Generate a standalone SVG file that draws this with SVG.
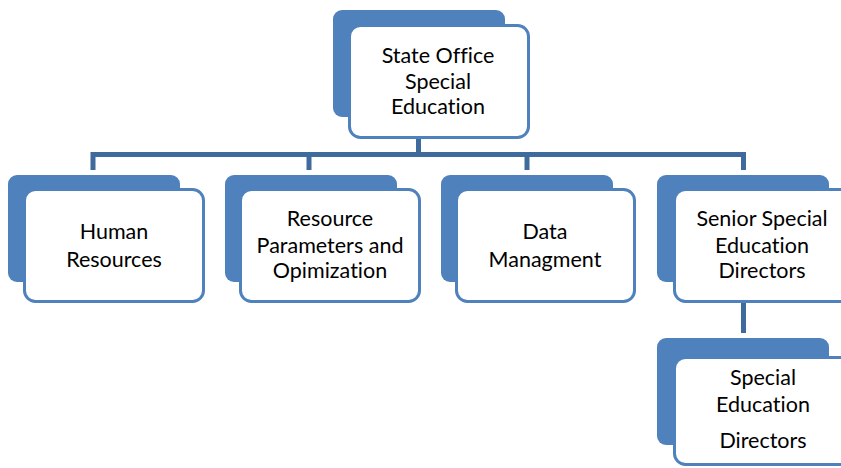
<svg xmlns="http://www.w3.org/2000/svg" width="841" height="468" viewBox="0 0 841 468">
  <style>
    .back { fill: #4F81BD; }
    .front { fill: #FFFFFF; stroke: #4F81BD; stroke-width: 3; }
    .link { fill: none; stroke: #3E6A9C; stroke-width: 5; }
    text { font-family: Lato, "Open Sans", "Liberation Sans", sans-serif; font-size: 21.5px; fill: #000000; text-anchor: middle; font-variant-ligatures: none; }
  </style>
  <rect width="841" height="468" fill="#FFFFFF"/>

  <!-- connectors -->
  <g id="connectors">
    <path class="link" d="M418.5 139 V154.5"/>
    <path class="link" d="M93 170 V154.5 H743.5 V170"/>
    <path class="link" d="M309 154.5 V170"/>
    <path class="link" d="M527 154.5 V170"/>
    <path class="link" d="M743.5 303 V333"/>
  </g>

  <!-- State Office Special Education -->
  <g id="node-state-office">
    <rect class="back" x="333" y="10" width="172" height="107" rx="9"/>
    <rect class="front" x="349.5" y="25.5" width="179" height="112" rx="11"/>
    <text x="438" y="63">State Office</text>
    <text x="438" y="89">Special</text>
    <text x="438" y="114">Education</text>
  </g>

  <!-- Human Resources -->
  <g id="node-human-resources">
    <rect class="back" x="8" y="175" width="172" height="107" rx="9"/>
    <rect class="front" x="24.5" y="189.5" width="179" height="112" rx="11"/>
    <text x="114" y="239">Human</text>
    <text x="114" y="267">Resources</text>
  </g>

  <!-- Resource Parameters and Opimization -->
  <g id="node-resource-parameters">
    <rect class="back" x="225" y="175" width="172" height="107" rx="9"/>
    <rect class="front" x="240.5" y="189.5" width="179" height="112" rx="11"/>
    <text x="330" y="226">Resource</text>
    <text x="330" y="253">Parameters and</text>
    <text x="330" y="278">Opimization</text>
  </g>

  <!-- Data Managment -->
  <g id="node-data-managment">
    <rect class="back" x="441" y="175" width="172" height="107" rx="9"/>
    <rect class="front" x="456.5" y="189.5" width="178" height="112" rx="11"/>
    <text x="545" y="239">Data</text>
    <text x="545" y="267">Managment</text>
  </g>

  <!-- Senior Special Education Directors -->
  <g id="node-senior-directors">
    <rect class="back" x="657" y="175" width="172" height="107" rx="9"/>
    <rect class="front" x="674.5" y="189.5" width="179" height="112" rx="11"/>
    <text x="762" y="226">Senior Special</text>
    <text x="762" y="253">Education</text>
    <text x="762" y="278">Directors</text>
  </g>

  <!-- Special Education Directors -->
  <g id="node-special-directors">
    <rect class="back" x="657" y="338" width="172" height="107" rx="9"/>
    <rect class="front" x="674.5" y="357.5" width="179" height="107" rx="11"/>
    <text x="763" y="385">Special</text>
    <text x="763" y="412">Education</text>
    <text x="763" y="448">Directors</text>
  </g>
</svg>
